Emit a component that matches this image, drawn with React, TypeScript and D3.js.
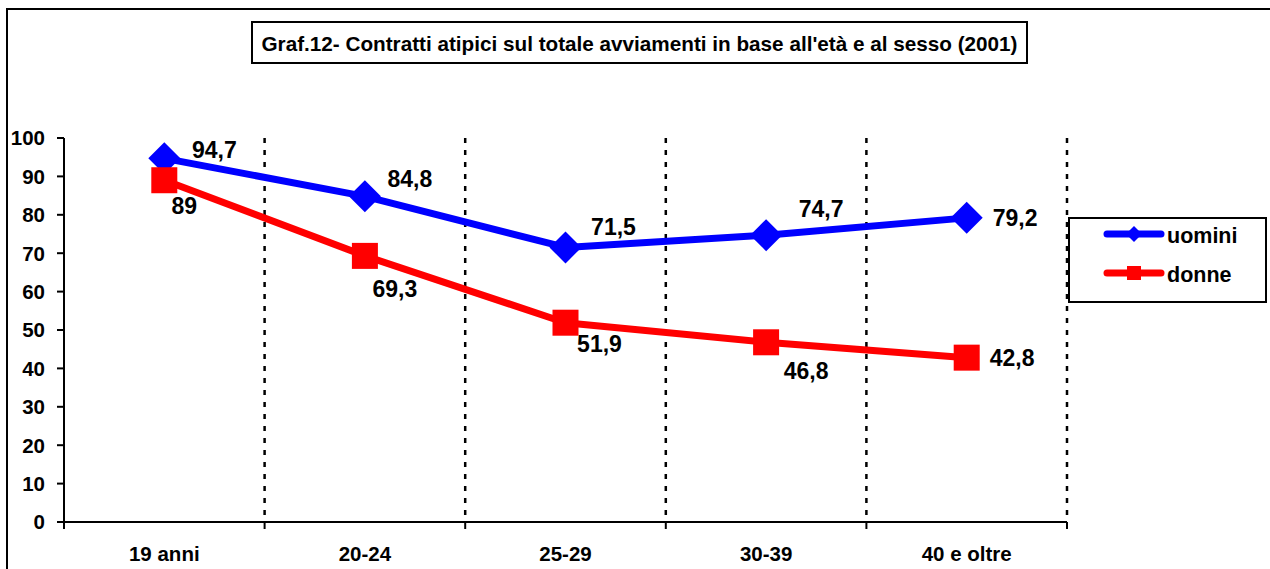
import React from "react";
import * as d3 from "d3";

const categories = ["19 anni", "20-24", "25-29", "30-39", "40 e oltre"];
const uomini = [94.7, 84.8, 71.5, 74.7, 79.2];
const donne = [89, 69.3, 51.9, 46.8, 42.8];
const uominiLabels = ["94,7", "84,8", "71,5", "74,7", "79,2"];
const donneLabels = ["89", "69,3", "51,9", "46,8", "42,8"];
const yTicks = [0, 10, 20, 30, 40, 50, 60, 70, 80, 90, 100];
const title = "Graf.12- Contratti atipici sul totale avviamenti in base all'età e al sesso (2001)";

// label offsets (center dx, center dy) relative to point
const uOff: [number, number, string][] = [
  [50, -9, "middle"], [45, -18, "middle"], [48, -21, "middle"], [55, -26, "middle"], [26, 0, "start"],
];
const dOff: [number, number, string][] = [
  [20, 25, "middle"], [30, 33, "middle"], [34, 21, "middle"], [40, 28, "middle"], [23, 0, "start"],
];

const FONT = "'Liberation Sans', Arial, sans-serif";

export default function App() {
  const left = 64, right = 1067, top = 138, bottom = 522;
  const x = d3.scaleBand<string>().domain(categories).range([left, right]);
  const y = d3.scaleLinear().domain([0, 100]).range([bottom, top]);
  const cx = (c: string) => (x(c) as number) + x.bandwidth() / 2;
  const line = d3.line<number>().x((_, i) => cx(categories[i])).y((v) => y(v));
  const boundaries = categories.map((c) => (x(c) as number) + x.bandwidth());

  const diamond = (px: number, py: number, r: number) =>
    `M${px},${py - r}L${px + r},${py}L${px},${py + r}L${px - r},${py}Z`;

  return (
    <svg width={1270} height={569} style={{ position: "absolute", left: 0, top: 0, background: "#fff" }} fontFamily={FONT}>
      <rect x={0} y={0} width={1270} height={569} fill="#fff" />
      <rect x={7} y={9} width={1290} height={600} fill="none" stroke="#000" strokeWidth={2} />
      {/* title */}
      <rect x={252} y={22} width={775} height={41} fill="#fff" stroke="#000" strokeWidth={2} />
      <text x={639.5} y={50.5} textAnchor="middle" fontSize={20.5} fontWeight="bold" textLength={756} lengthAdjust="spacingAndGlyphs">
        {title}
      </text>
      {/* gridlines dotted */}
      {boundaries.map((b, i) => (
        <line key={i} x1={b} x2={b} y1={top} y2={bottom} stroke="#000" strokeWidth={2.5} strokeDasharray="5,7" />
      ))}
      {/* axes */}
      <line x1={left} x2={left} y1={top} y2={bottom} stroke="#000" strokeWidth={2} />
      <line x1={left} x2={right} y1={bottom} y2={bottom} stroke="#000" strokeWidth={2} />
      {yTicks.map((t) => (
        <g key={t}>
          <line x1={left - 7} x2={left} y1={y(t)} y2={y(t)} stroke="#000" strokeWidth={2} />
          <text x={45} y={y(t)} dy="0.36em" textAnchor="end" fontSize={20.5} fontWeight="bold">{t}</text>
        </g>
      ))}
      {[left, ...boundaries].map((b, i) => (
        <line key={i} x1={b} x2={b} y1={bottom} y2={bottom + 7} stroke="#000" strokeWidth={2} />
      ))}
      {categories.map((c) => (
        <text key={c} x={cx(c)} y={554} dy="0.36em" textAnchor="middle" fontSize={20.5} fontWeight="bold">{c}</text>
      ))}
      {/* lines */}
      <path d={line(uomini) as string} fill="none" stroke="#0000ff" strokeWidth={7} strokeLinejoin="round" />
      <path d={line(donne) as string} fill="none" stroke="#ff0000" strokeWidth={7} strokeLinejoin="round" />
      {uomini.map((v, i) => (
        <path key={i} d={diamond(cx(categories[i]), y(v), 16)} fill="#0000ff" />
      ))}
      {donne.map((v, i) => (
        <rect key={i} x={cx(categories[i]) - 13} y={y(v) - 13} width={26} height={26} fill="#ff0000" />
      ))}
      {uomini.map((v, i) => (
        <text key={i} x={cx(categories[i]) + uOff[i][0]} y={y(v) + uOff[i][1]} dy="0.36em"
          textAnchor={uOff[i][2] as any} fontSize={23} fontWeight="bold">{uominiLabels[i]}</text>
      ))}
      {donne.map((v, i) => (
        <text key={i} x={cx(categories[i]) + dOff[i][0]} y={y(v) + dOff[i][1]} dy="0.36em"
          textAnchor={dOff[i][2] as any} fontSize={23} fontWeight="bold">{donneLabels[i]}</text>
      ))}
      {/* legend */}
      <rect x={1069} y={218} width={197} height={84} fill="#fff" stroke="#000" strokeWidth={2} />
      <line x1={1107} x2={1161} y1={234} y2={234} stroke="#0000ff" strokeWidth={7} strokeLinecap="round" />
      <path d={diamond(1134, 234, 8)} fill="#0000ff" />
      <text x={1167} y={235} dy="0.36em" fontSize={21.5} fontWeight="bold">uomini</text>
      <line x1={1107} x2={1161} y1={273} y2={273} stroke="#ff0000" strokeWidth={7} strokeLinecap="round" />
      <rect x={1127} y={266} width={14} height={14} fill="#ff0000" />
      <text x={1167} y={274} dy="0.36em" fontSize={21.5} fontWeight="bold">donne</text>
    </svg>
  );
}
